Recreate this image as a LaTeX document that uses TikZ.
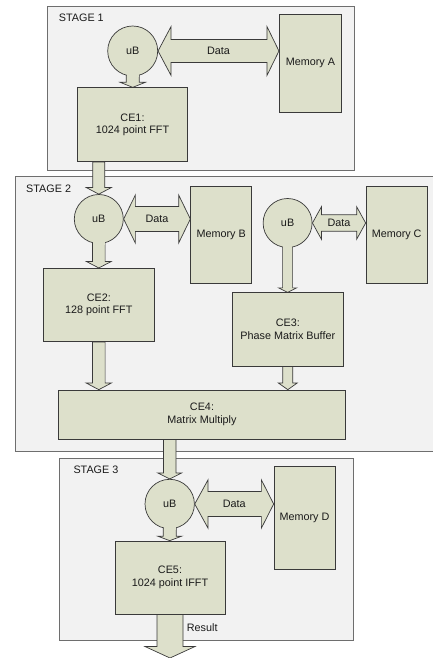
\documentclass[tikz,border=0pt]{standalone}
\usepackage{fontspec}
\setmainfont{Liberation Sans}
\usetikzlibrary{calc}
\pgfdeclarelayer{bg}\pgfdeclarelayer{arr}\pgfdeclarelayer{fg}
\pgfsetlayers{bg,arr,main,fg}
\definecolor{blockfill}{HTML}{DDE0CB}
\definecolor{stagefill}{HTML}{F2F2F2}
\definecolor{stageline}{HTML}{6E6E6E}
\definecolor{blockline}{HTML}{3A3A3A}
\definecolor{txt}{HTML}{1A1A1A}
% vertical block arrow: start, tip, shaft half width, head half width, head length
\newcommand\varr[5]{%
 \draw[barrow] let \p1=(#1), \p2=(#2) in (\x2-#3pt,\y1) -- (\x2-#3pt,\y2+#5pt) -- (\x2-#4pt,\y2+#5pt) -- (\x2,\y2) -- (\x2+#4pt,\y2+#5pt) -- (\x2+#3pt,\y2+#5pt) -- (\x2+#3pt,\y1) -- cycle;}
% horizontal double block arrow: left tip, right tip, shaft half, head half, left head len, right head len
\newcommand\harr[6]{%
 \draw[barrow] let \p1=(#1), \p2=(#2) in (\x1,\y1) -- (\x1+#5pt,\y1+#4pt) -- (\x1+#5pt,\y1+#3pt) -- (\x2-#6pt,\y1+#3pt) -- (\x2-#6pt,\y1+#4pt) -- (\x2,\y1) -- (\x2-#6pt,\y1-#4pt) -- (\x2-#6pt,\y1-#3pt) -- (\x1+#5pt,\y1-#3pt) -- (\x1+#5pt,\y1-#4pt) -- cycle;}
% hide circle outline inside the tail
\newcommand\tailpatch[3]{%
 \fill[blockfill] let \p1=(#1.center) in (\x1-#2pt+0.5pt,\y1-#3pt+6pt) rectangle (\x1+#2pt-0.5pt,\y1-#3pt-1.5pt);}
\begin{document}
\begin{tikzpicture}[x=1pt,y=-1pt,
 every node/.style={font=\fontsize{10.8}{12.5}\selectfont, text=txt},
 stagebox/.style={draw=stageline, fill=stagefill, line width=0.8pt, inner sep=0pt},
 blockbox/.style={draw=blockline, fill=blockfill, line width=0.7pt, inner sep=0pt, align=center},
 ubnode/.style={circle, draw=blockline, fill=blockfill, line width=0.7pt, inner sep=0pt},
 barrow/.style={draw=blockline, fill=blockfill, line width=0.7pt, line join=miter},
 lbl/.style={inner sep=0pt}]
\useasboundingbox (0,0) rectangle (433,658);
\begin{pgfonlayer}{bg}
\node[stagebox, minimum width=306.3pt, minimum height=164.7pt] (s1) at (200.85,88.35) {};
\node[stagebox, minimum width=419.3pt, minimum height=275pt] (s2) at (225.35,314.2) {};
\node[stagebox, minimum width=294pt, minimum height=182.4pt] (s3) at (206.3,549.5) {};
\end{pgfonlayer}
\node[lbl, anchor=west] (l1) at (58.7,18) {STAGE 1};
\node[lbl, anchor=west] (l2) at (26,188.3) {STAGE 2};
\node[lbl, anchor=west] (l3) at (73.3,469.3) {STAGE 3};
% stage 1
\node[blockbox, minimum width=62.4pt, minimum height=98pt] (memA) at (310.5,63.3) {Memory A};
\node[blockbox, minimum width=109.6pt, minimum height=74pt] (ce1) at (132.5,124.7) {CE1:\\1024 point FFT};
\node[ubnode, minimum size=50pt] (ub1) at (132.7,51) {uB};
% stage 2
\node[ubnode, minimum size=49pt] (ub2) at (98.8,219) {uB};
\node[blockbox, minimum width=61pt, minimum height=97.3pt] (memB) at (221.2,234.65) {Memory B};
\node[ubnode, minimum size=49pt] (ub3) at (287.6,223) {uB};
\node[blockbox, minimum width=61.3pt, minimum height=97.3pt] (memC) at (396.65,234.65) {Memory C};
\node[blockbox, minimum width=111pt, minimum height=73.4pt] (ce2) at (98.8,305) {CE2:\\128 point FFT};
\node[blockbox, minimum width=111pt, minimum height=73.3pt] (ce3) at (287.8,329.35) {CE3:\\Phase Matrix Buffer};
\node[blockbox, minimum width=287.4pt, minimum height=49pt] (ce4) at (202,414.5) {CE4:\\Matrix Multiply};
% stage 3
\node[ubnode, minimum size=49.4pt] (ub4) at (169.7,504) {uB};
\node[blockbox, minimum width=61pt, minimum height=103.3pt] (memD) at (304.5,517.65) {Memory D};
\node[blockbox, minimum width=110pt, minimum height=73pt] (ce5) at (170,577.5) {CE5:\\1024 point IFFT};
\coordinate (res) at (170,658);
% data labels
\node[lbl] (d1) at ($(ub1.east)!0.5!(memA.west |- ub1.east)$) {Data};
\node[lbl] (d2) at ($(ub2.east)!0.5!(memB.west |- ub2.east)$) {Data};
\node[lbl] (d3) at ($(ub3.east)!0.5!(memC.west |- ub3.east)$) {Data};
\node[lbl] (d4) at ($(ub4.east)!0.5!(memD.west |- ub4.east)$) {Data};
\node[lbl, anchor=west] (rl) at (186.7,627.3) {Result};
\begin{pgfonlayer}{arr}
\varr{ub1.center}{ub1 |- ce1.north}{6.5}{12.5}{5}
\harr{ub1.east}{memA.west}{11.5}{24.5}{13}{12}
\varr{ce1.south}{ub2.north}{6}{12.5}{6.6}
\varr{ub2.center}{ub2 |- ce2.north}{6.3}{12.5}{6.5}
\harr{ub2.east}{memB.west}{12.5}{24}{11.7}{11.7}
\varr{ub3.center}{ub3 |- ce3.north}{5}{9}{4.5}
\harr{ub3.east}{memC.west}{8.2}{16.3}{9}{9}
\varr{ce2.south}{ce2 |- ce4.north}{6.3}{12.7}{6.7}
\varr{ce3.south}{ce3 |- ce4.north}{5}{9.5}{6.7}
\varr{ce4.south}{ub4.north}{6.3}{12}{6}
\varr{ub4.center}{ub4 |- ce5.north}{6.5}{12}{4.5}
\harr{ub4.east}{memD.west}{12.5}{24.2}{13.3}{12.3}
\varr{ce5.south}{res}{13}{25}{11.5}
\end{pgfonlayer}
\begin{pgfonlayer}{fg}
\tailpatch{ub1}{6.5}{25}
\tailpatch{ub2}{6.3}{24.5}
\tailpatch{ub3}{5}{24.5}
\tailpatch{ub4}{6.5}{24.7}
\end{pgfonlayer}
\end{tikzpicture}
\end{document}
